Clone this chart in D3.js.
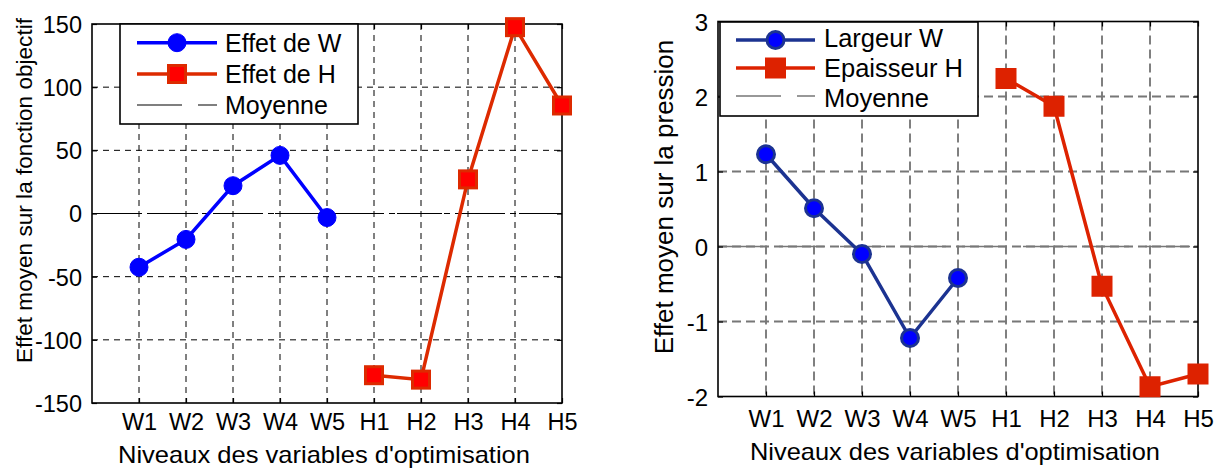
<!DOCTYPE html>
<html><head><meta charset="utf-8">
<script src="https://cdn.jsdelivr.net/npm/d3@7"></script>
<style>
body{margin:0;background:#fff}
svg{display:block}
text{font-family:"Liberation Sans",Arial,Helvetica,sans-serif;fill:#000}
</style>
</head><body>
<svg id="c" width="1223" height="470"></svg>
<script>
// ---- data ----
const levels = ["W1","W2","W3","W4","W5","H1","H2","H3","H4","H5"];
const wPos = [1,2,3,4,5];
const hPos = [6,7,8,9,10];
// left panel: effect on objective function
const objW = [-42.5, -20.5, 22, 46, -3.2];
const objH = [-128, -131.5, 27, 147.5, 85.5];
const objTicks = [-150,-100,-50,0,50,100,150];
// right panel: effect on pressure
const presW = [1.23, 0.51, -0.1, -1.22, -0.42];
const presH = [2.24, 1.87, -0.53, -1.87, -1.70];
const presTicks = [-2,-1,0,1,2,3];

const svg = d3.select("#c");
svg.append("rect").attr("width",1223).attr("height",470).attr("fill","#fff");

function panel(cfg){
  const g = svg.append("g");
  const x = d3.scaleLinear().domain([0,10]).range([cfg.left, cfg.right]);
  const y = d3.scaleLinear().domain([cfg.yTicks[0], cfg.yTicks[cfg.yTicks.length-1]]).range([cfg.bottom, cfg.top]);

  // vertical grid
  g.append("g").selectAll("line").data(d3.range(1,10)).join("line")
    .attr("x1",d=>x(d)).attr("x2",d=>x(d)).attr("y1",cfg.top).attr("y2",cfg.bottom)
    .attr("stroke","#000").attr("stroke-width",1).attr("stroke-dasharray",cfg.vDash);
  // horizontal grid
  g.append("g").selectAll("line").data(cfg.yTicks.slice(1,-1)).join("line")
    .attr("x1",cfg.left).attr("x2",cfg.right).attr("y1",d=>y(d)).attr("y2",d=>y(d))
    .attr("stroke",cfg.hGridColor).attr("stroke-width",cfg.hGridWidth).attr("stroke-dasharray",cfg.hDash);
  // mean line at 0
  g.append("line").attr("x1",cfg.left).attr("x2",cfg.right).attr("y1",y(0)).attr("y2",y(0))
    .attr("stroke",cfg.meanColor).attr("stroke-width",cfg.meanWidth).attr("stroke-dasharray","45,16");

  // axes
  const xa = g.append("g").attr("transform",`translate(0,${cfg.bottom})`)
    .call(d3.axisBottom(x).tickValues(d3.range(1,11)).tickFormat(i=>levels[i-1]).tickSizeInner(-5).tickSizeOuter(0));
  xa.selectAll("text").attr("dy",null).attr("y",cfg.xTickBase).style("font-size",cfg.tickFont+"px");
  const xt = g.append("g").attr("transform",`translate(0,${cfg.top})`)
    .call(d3.axisTop(x).tickValues(d3.range(1,11)).tickFormat("").tickSizeInner(-5).tickSizeOuter(0));
  const ya = g.append("g").attr("transform",`translate(${cfg.left},0)`)
    .call(d3.axisLeft(y).tickValues(cfg.yTicks).tickFormat(d=>String(d)).tickSizeInner(-5).tickSizeOuter(0).tickPadding(10));
  ya.selectAll("text").attr("dy","0.36em").style("font-size",cfg.tickFont+"px");
  const yr = g.append("g").attr("transform",`translate(${cfg.right},0)`)
    .call(d3.axisRight(y).tickValues(cfg.yTicks).tickFormat("").tickSizeInner(-5).tickSizeOuter(0));
  [xa,xt,ya,yr].forEach(a=>{a.select(".domain").remove();a.selectAll("line").attr("stroke","#000").attr("stroke-width",1.2);});
  g.append("rect").attr("x",cfg.left).attr("y",cfg.top).attr("width",cfg.right-cfg.left).attr("height",cfg.bottom-cfg.top)
    .attr("fill","none").attr("stroke","#000").attr("stroke-width",1.6);

  // series
  const line = d3.line().x(d=>x(d[0])).y(d=>y(d[1]));
  const wData = wPos.map((p,i)=>[p,cfg.wVals[i]]);
  const hData = hPos.map((p,i)=>[p,cfg.hVals[i]]);
  g.append("path").attr("d",line(wData)).attr("fill","none").attr("stroke",cfg.wLine).attr("stroke-width",3.5);
  g.append("path").attr("d",line(hData)).attr("fill","none").attr("stroke",cfg.hLine).attr("stroke-width",3.5);
  g.append("g").selectAll("circle").data(wData).join("circle")
    .attr("cx",d=>x(d[0])).attr("cy",d=>y(d[1])).attr("r",cfg.cR)
    .attr("fill","#0000ff").attr("stroke",cfg.cStroke).attr("stroke-width",cfg.cStrokeW);
  const s = cfg.sq;
  g.append("g").selectAll("rect").data(hData).join("rect")
    .attr("x",d=>x(d[0])-s/2).attr("y",d=>y(d[1])-s/2).attr("width",s).attr("height",s)
    .attr("fill",cfg.sqFill).attr("stroke",cfg.hLine).attr("stroke-width",3);

  // legend
  const L = cfg.legend;
  const lg = g.append("g");
  lg.append("rect").attr("x",L.x0).attr("y",L.y0).attr("width",L.x1-L.x0).attr("height",L.y1-L.y0)
    .attr("fill","#fff").attr("stroke","#000").attr("stroke-width",1.6);
  L.rows.forEach((r,i)=>{
    const ly = L.lineY[i];
    const ln = lg.append("line").attr("x1",L.lx0).attr("x2",L.lx1).attr("y1",ly).attr("y2",ly)
      .attr("stroke",r.color).attr("stroke-width",r.w);
    if(r.dash) ln.attr("stroke-dasharray",r.dash);
    const mx=(L.lx0+L.lx1)/2;
    if(r.marker==="circle") lg.append("circle").attr("cx",mx).attr("cy",ly).attr("r",cfg.cR)
      .attr("fill","#0000ff").attr("stroke",cfg.cStroke).attr("stroke-width",cfg.cStrokeW);
    if(r.marker==="square") lg.append("rect").attr("x",mx-s/2).attr("y",ly-s/2).attr("width",s).attr("height",s)
      .attr("fill",cfg.sqFill).attr("stroke",cfg.hLine).attr("stroke-width",3);
    lg.append("text").attr("x",L.tx).attr("y",L.textBase[i]).style("font-size",L.font+"px").text(r.label);
  });

  // titles
  g.append("text").attr("x",cfg.xTitle.cx).attr("y",cfg.xTitle.base).attr("text-anchor","middle")
    .style("font-size","24px").attr("textLength",cfg.xTitle.len).attr("lengthAdjust","spacingAndGlyphs")
    .text("Niveaux des variables d'optimisation");
  g.append("text").attr("transform",`translate(${cfg.yTitle.base},${cfg.yTitle.cy}) rotate(-90)`)
    .attr("text-anchor","middle").style("font-size",cfg.yTitle.font+"px")
    .text(cfg.yTitle.text);
}

panel({
  left:92, right:562, top:24, bottom:403, yTicks:objTicks,
  vDash:"6,5", hDash:"6,5", hGridColor:"#000", hGridWidth:1,
  meanColor:"#000", meanWidth:1.2,
  xTickBase:27, tickFont:23.5,
  wVals:objW, hVals:objH, wLine:"#0000ff", hLine:"#dd2a00",
  cR:9, cStroke:"#0000ff", cStrokeW:1, sq:17, sqFill:"#ff0000",
  legend:{x0:120,x1:358,y0:24,y1:124,lx0:137,lx1:217,lineY:[42.7,74,105],tx:225,textBase:[51.5,82.5,113.5],font:25,
    rows:[{label:"Effet de W",color:"#0000ff",w:3.5,marker:"circle"},
          {label:"Effet de H",color:"#dd2a00",w:3.5,marker:"square"},
          {label:"Moyenne",color:"#000",w:1.2,dash:"45,16"}]},
  xTitle:{cx:324,base:463,len:412},
  yTitle:{base:32,cy:190.5,font:22.6,text:"Effet moyen sur la fonction objectif"}
});

panel({
  left:718, right:1198, top:21.5, bottom:396.5, yTicks:presTicks,
  vDash:"9,5", hDash:"9,5", hGridColor:"#777", hGridWidth:2,
  meanColor:"#777", meanWidth:1.6,
  xTickBase:30, tickFont:24,
  wVals:presW, hVals:presH, wLine:"#1c3391", hLine:"#dd2200",
  cR:8.5, cStroke:"#1c3391", cStrokeW:3, sq:18, sqFill:"#dd2200",
  legend:{x0:720,x1:978,y0:22,y1:116,lx0:736,lx1:815,lineY:[40,68,96],tx:824,textBase:[46.7,76.7,106.5],font:25.5,
    rows:[{label:"Largeur W",color:"#1c3391",w:3.5,marker:"circle"},
          {label:"Epaisseur H",color:"#dd2200",w:3.5,marker:"square"},
          {label:"Moyenne",color:"#777",w:1.6,dash:"45,16"}]},
  xTitle:{cx:955,base:460,len:410},
  yTitle:{base:673,cy:197,font:26,text:"Effet moyen sur la pression"}
});
</script>
</body></html>
